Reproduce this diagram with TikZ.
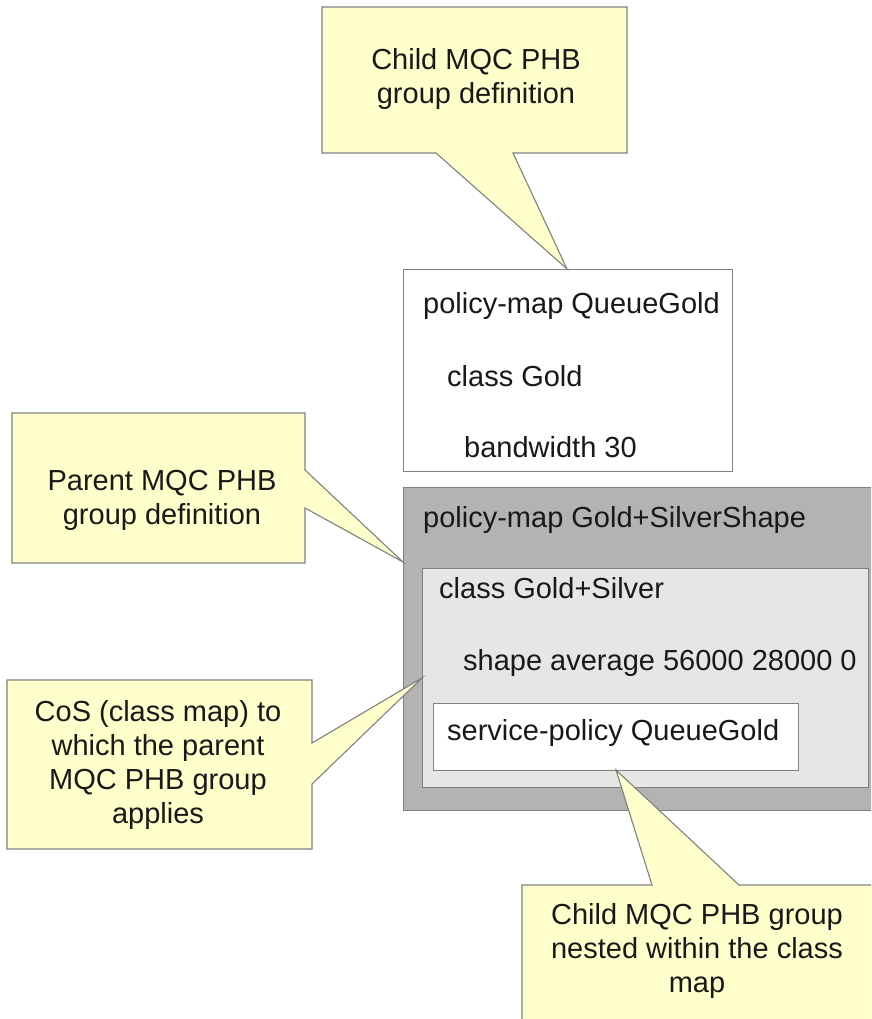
\documentclass[tikz,border=0pt]{standalone}
\usepackage{fontspec}
\setmainfont{Liberation Sans}
\definecolor{calloutfill}{HTML}{FFFFCC}
\definecolor{edgegray}{HTML}{808080}
\definecolor{darkbox}{HTML}{B3B3B3}
\definecolor{lightbox}{HTML}{E6E6E6}
\begin{document}
\begin{tikzpicture}[x=1pt,y=-1pt,
  every node/.style={font=\fontsize{29}{34}\selectfont, inner sep=0pt, text=black!90},
  boxline/.style={draw=edgegray, line width=1.1pt, anchor=north west},
  callout/.style={draw=edgegray, fill=calloutfill, line width=1.1pt, line join=miter},
  code/.style={anchor=base west},
  ctext/.style={anchor=base, align=center}]
\useasboundingbox (0,0) rectangle (871,1019);
\clip (0,0) rectangle (871,1019);

% boxes
\node[boxline, fill=white, minimum width=329pt, minimum height=202pt] (qg) at (403,269) {};
\node[boxline, fill=darkbox, minimum width=497pt, minimum height=323pt] (pm) at (403,487) {};
\node[boxline, fill=lightbox, minimum width=446pt, minimum height=219pt] (cl) at (422,568) {};
\node[boxline, fill=white, minimum width=365pt, minimum height=67pt] (sp) at (433,703) {};

% box texts
\node[code] (qg1) at (423,313) {policy-map QueueGold};
\node[code] (qg2) at (447,386) {class Gold};
\node[code] (qg3) at (464,457) {bandwidth 30};
\node[code] (pm1) at (423,527) {policy-map Gold+SilverShape};
\node[code] (cl1) at (439,598) {class Gold+Silver};
\node[code] (cl2) at (463,670) {shape average 56000 28000 0};
\node[code] (sp1) at (447,740) {service-policy QueueGold};

% callout tips
\coordinate (t1) at (567,269);
\coordinate (t2) at (403,562);
\coordinate (t3) at (422,678);
\coordinate (t4) at (616,770);

% callouts (anchor = baseline of the last line)
\draw[callout] (322,7) -- (627,7) -- (627,153) -- (513,153) -- (t1) -- (436,153) -- (322,153) -- cycle;
\node[ctext] (c1) at (476,104) {Child MQC PHB\\group definition};

\draw[callout] (12,413) -- (305,413) -- (305,470) -- (t2) -- (305,508) -- (305,563) -- (12,563) -- cycle;
\node[ctext] (c2) at (162,524) {Parent MQC PHB\\group definition};

\draw[callout] (7,680) -- (312,680) -- (312,743) -- (t3) -- (312,784) -- (312,849) -- (7,849) -- cycle;
\node[ctext] (c3) at (158,823) {CoS (class map) to\\which the parent\\MQC PHB group\\applies};

\draw[callout] (522,885) -- (652,885) -- (t4) -- (739,885) -- (900,885) -- (900,1040) -- (522,1040) -- cycle;
\node[ctext] (c4) at (697,992) {Child MQC PHB group\\nested within the class\\map};
\end{tikzpicture}
\end{document}
